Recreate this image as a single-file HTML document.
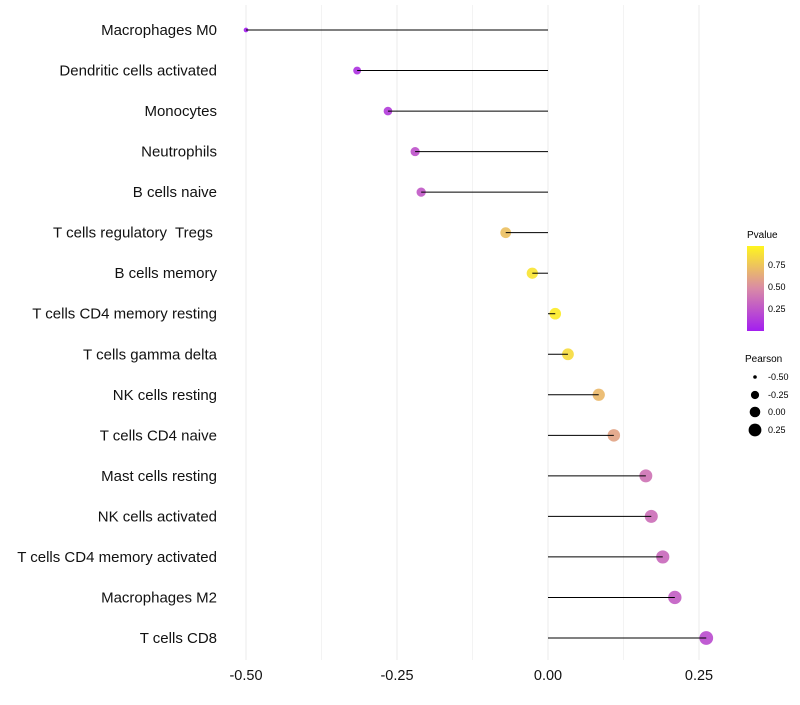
<!DOCTYPE html>
<html><head><meta charset="utf-8"><style>
body{margin:0;background:#fff;font-family:"Liberation Sans",sans-serif}
text{white-space:pre}
</style></head><body>
<svg id="chart" width="800" height="700" xmlns="http://www.w3.org/2000/svg" font-family="Liberation Sans, sans-serif">
<defs><linearGradient id="pg" x1="0" y1="1" x2="0" y2="0">
<stop offset="0" stop-color="#a31ef0"/><stop offset="0.5" stop-color="#d98aa6"/><stop offset="1" stop-color="#fff51e"/>
</linearGradient></defs>
<g id="grid"></g><g id="dots"></g><g id="marks"></g><g id="labels"></g>
<g font-size="9">
<text x="747" y="238" font-size="10">Pvalue</text>
<rect x="747" y="246" width="17" height="85" fill="url(#pg)"/>
<text x="768" y="268">0.75</text>
<text x="768" y="290">0.50</text>
<text x="768" y="312">0.25</text>
</g>
<g font-size="9">
<text x="745" y="362" font-size="10">Pearson</text>
<circle cx="755" cy="377" r="1.8" fill="#000"/>
<circle cx="755" cy="395" r="4.1" fill="#000"/>
<circle cx="755" cy="412" r="5.3" fill="#000"/>
<circle cx="755" cy="430" r="6.4" fill="#000"/>
<text x="768" y="380">-0.50</text>
<text x="768" y="398">-0.25</text>
<text x="768" y="415">0.00</text>
<text x="768" y="433">0.25</text>
</g>
</svg>
<script>
const categories=["Macrophages M0","Dendritic cells activated","Monocytes","Neutrophils","B cells naive","T cells regulatory  Tregs ","B cells memory","T cells CD4 memory resting","T cells gamma delta","NK cells resting","T cells CD4 naive","Mast cells resting","NK cells activated","T cells CD4 memory activated","Macrophages M2","T cells CD8"];
const pearson=[-0.50,-0.316,-0.265,-0.220,-0.210,-0.070,-0.026,0.012,0.033,0.084,0.109,0.162,0.171,0.190,0.210,0.262];
const pvalue=[0.01,0.10,0.15,0.25,0.28,0.75,0.92,0.96,0.88,0.72,0.62,0.40,0.38,0.35,0.30,0.22];
const xTicks=[-0.5,-0.25,0,0.25];
const xTickLabels=["-0.50","-0.25","0.00","0.25"];
const xMinor=[-0.375,-0.125,0.125];
const ns="http://www.w3.org/2000/svg";
const X=v=>548+v*604;
const Y=i=>30+i*(608/15);
const R=v=>Math.sqrt(Math.max(1,33+55*v));
function lerp(a,b,t){return a.map((x,i)=>Math.round(x+(b[i]-x)*t));}
function col(p){const c0=[163,30,240],c1=[217,138,166],c2=[255,245,30];
 const c=p<0.5?lerp(c0,c1,p/0.5):lerp(c1,c2,(p-0.5)/0.5);return `rgb(${c})`;}
function mk(t,a,parent){const e=document.createElementNS(ns,t);for(const k in a)e.setAttribute(k,a[k]);document.getElementById(parent).appendChild(e);return e;}
xMinor.forEach((v,i)=>{const l=mk('line',{x1:X(v),x2:X(v),y1:5,y2:660,stroke:'#f3f3f3','stroke-width':1},'grid');

});
xTicks.forEach((v,i)=>{const l=mk('line',{x1:X(v),x2:X(v),y1:5,y2:660,stroke:'#ebebeb','stroke-width':1},'grid');


const t=mk('text',{x:X(v),y:680,'text-anchor':'middle','font-size':14.5,fill:'#111'},'labels');t.textContent=xTickLabels[i];

});
categories.forEach((c,i)=>{const y=Y(i);
const d=mk('circle',{cx:X(pearson[i]),cy:y,r:R(pearson[i]),fill:col(pvalue[i]),'fill-opacity':0.92},'dots');


const l=mk('line',{x1:X(0),x2:X(pearson[i]),y1:y,y2:y,stroke:'#000','stroke-width':1},'marks');


const t=mk('text',{x:217,y:y+5,'text-anchor':'end','font-size':15,fill:'#111'},'labels');t.textContent=c;

});
</script>
</body></html>
